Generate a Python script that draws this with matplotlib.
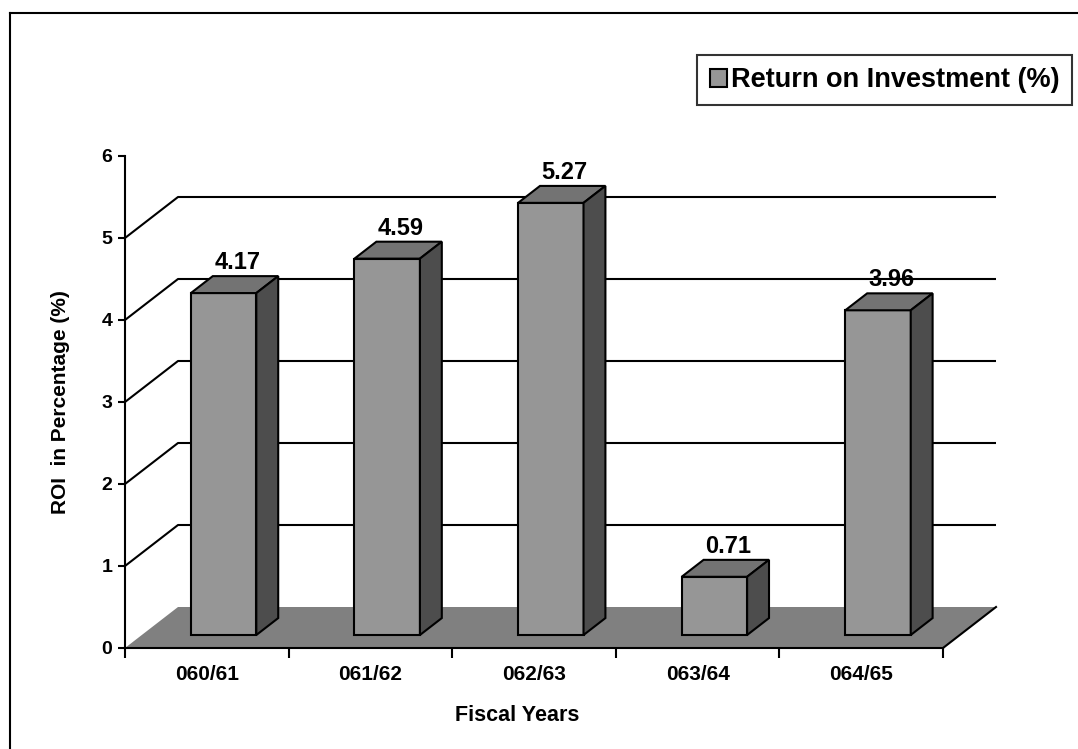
import matplotlib.pyplot as plt
from matplotlib.patches import Polygon, Patch
from matplotlib.lines import Line2D

plt.rcParams['font.family'] = ['Liberation Sans', 'DejaVu Sans']
plt.rcParams['font.weight'] = 'bold'

years = ['060/61', '061/62', '062/63', '063/64', '064/65']
roi = [4.17, 4.59, 5.27, 0.71, 3.96]
yticks = [0, 1, 2, 3, 4, 5, 6]

FRONT = '#969696'
TOP = '#737373'
SIDE = '#4d4d4d'
FLOOR = '#808080'

# depth of the fake 3d box, in data units
DX, DY = 0.324, 0.5
# bars sit between these fractions of the depth
F0, F1 = 0.317, 0.73
BAR_W = 0.4

fig = plt.figure(figsize=(10.78, 7.49), dpi=100)
ax = fig.add_axes([125 / 1078, 101 / 749, 818 / 1078, 492 / 749])
ax.patch.set_visible(False)
n = len(years)
ax.set_xlim(0, n)
ax.set_ylim(0, 6)

# back wall grid lines with the diagonal back to the axis
for v in yticks[1:-1]:
    ax.plot([0, DX, n + DX], [v, v + DY, v + DY], color='black', lw=1.5,
            clip_on=False, zorder=1, solid_capstyle='butt')

# floor
floor = Polygon([(0, 0), (n, 0), (n + DX, DY), (DX, DY)], closed=True,
                facecolor=FLOOR, edgecolor='none', clip_on=False, zorder=2)
ax.add_patch(floor)
ax.plot([n, n + DX], [0, DY], color='black', lw=1.5, clip_on=False, zorder=2)

bdx = (F1 - F0) * DX
bdy = (F1 - F0) * DY
for i, v in enumerate(roi):
    x0 = i + 0.5 - BAR_W / 2 + F0 * DX
    y0 = F0 * DY
    x1 = x0 + BAR_W
    front = [(x0, y0), (x1, y0), (x1, y0 + v), (x0, y0 + v)]
    top = [(x0, y0 + v), (x1, y0 + v), (x1 + bdx, y0 + v + bdy), (x0 + bdx, y0 + v + bdy)]
    side = [(x1, y0), (x1 + bdx, y0 + bdy), (x1 + bdx, y0 + v + bdy), (x1, y0 + v)]
    for pts, col in [(front, FRONT), (top, TOP), (side, SIDE)]:
        ax.add_patch(Polygon(pts, closed=True, facecolor=col, edgecolor='black',
                             lw=1.5, joinstyle='miter', clip_on=False, zorder=3))
    ax.annotate(f'{v:.2f}', xy=(x0 + (BAR_W + bdx) / 2, y0 + v + bdy),
                xytext=(2, 5), textcoords='offset points', ha='center',
                va='baseline', fontsize=17, fontweight='bold', zorder=4)

for s in ['top', 'right']:
    ax.spines[s].set_visible(False)
for s in ['left', 'bottom']:
    ax.spines[s].set_linewidth(1.5)

ax.set_yticks(yticks)
ax.set_yticklabels([str(t) for t in yticks], fontsize=14, fontweight='bold')
ax.tick_params(axis='y', length=5, width=1.5, pad=4)

ax.set_xticks(range(n + 1))
ax.set_xticklabels([])
ax.set_xticks([i + 0.5 for i in range(n)], minor=True)
ax.set_xticklabels(years, minor=True, fontsize=15, fontweight='bold')
ax.tick_params(axis='x', which='major', length=7, width=1.5)
ax.tick_params(axis='x', which='minor', length=0, pad=12)

ax.set_ylabel('ROI  in Percentage (%)', fontsize=15, fontweight='bold')
ax.yaxis.set_label_coords(-0.067, 0.5)
ax.set_xlabel('Fiscal Years', fontsize=15.5, fontweight='bold')
ax.xaxis.set_label_coords(0.479, -0.138)
ax.xaxis.label.set_va('center')

leg = fig.legend(handles=[Patch(facecolor=FRONT, edgecolor='black', lw=1.5)],
                 labels=['Return on Investment (%)'], loc='upper right',
                 bbox_to_anchor=(1072 / 1078, 1 - 55 / 749),
                 prop={'size': 19.5, 'weight': 'bold'}, fancybox=False,
                 handlelength=0.65, handleheight=0.65, handletextpad=0.15,
                 borderpad=0.45, borderaxespad=0)
leg.get_frame().set_edgecolor('black')
leg.get_frame().set_linewidth(1.5)

# chart border (top and left edges visible)
fig.add_artist(Line2D([10 / 1078, 1], [1 - 13 / 749, 1 - 13 / 749], color='black', lw=1.5))
fig.add_artist(Line2D([10 / 1078, 10 / 1078], [0, 1 - 13 / 749], color='black', lw=1.5))

fig.savefig('out.png', dpi=100)
